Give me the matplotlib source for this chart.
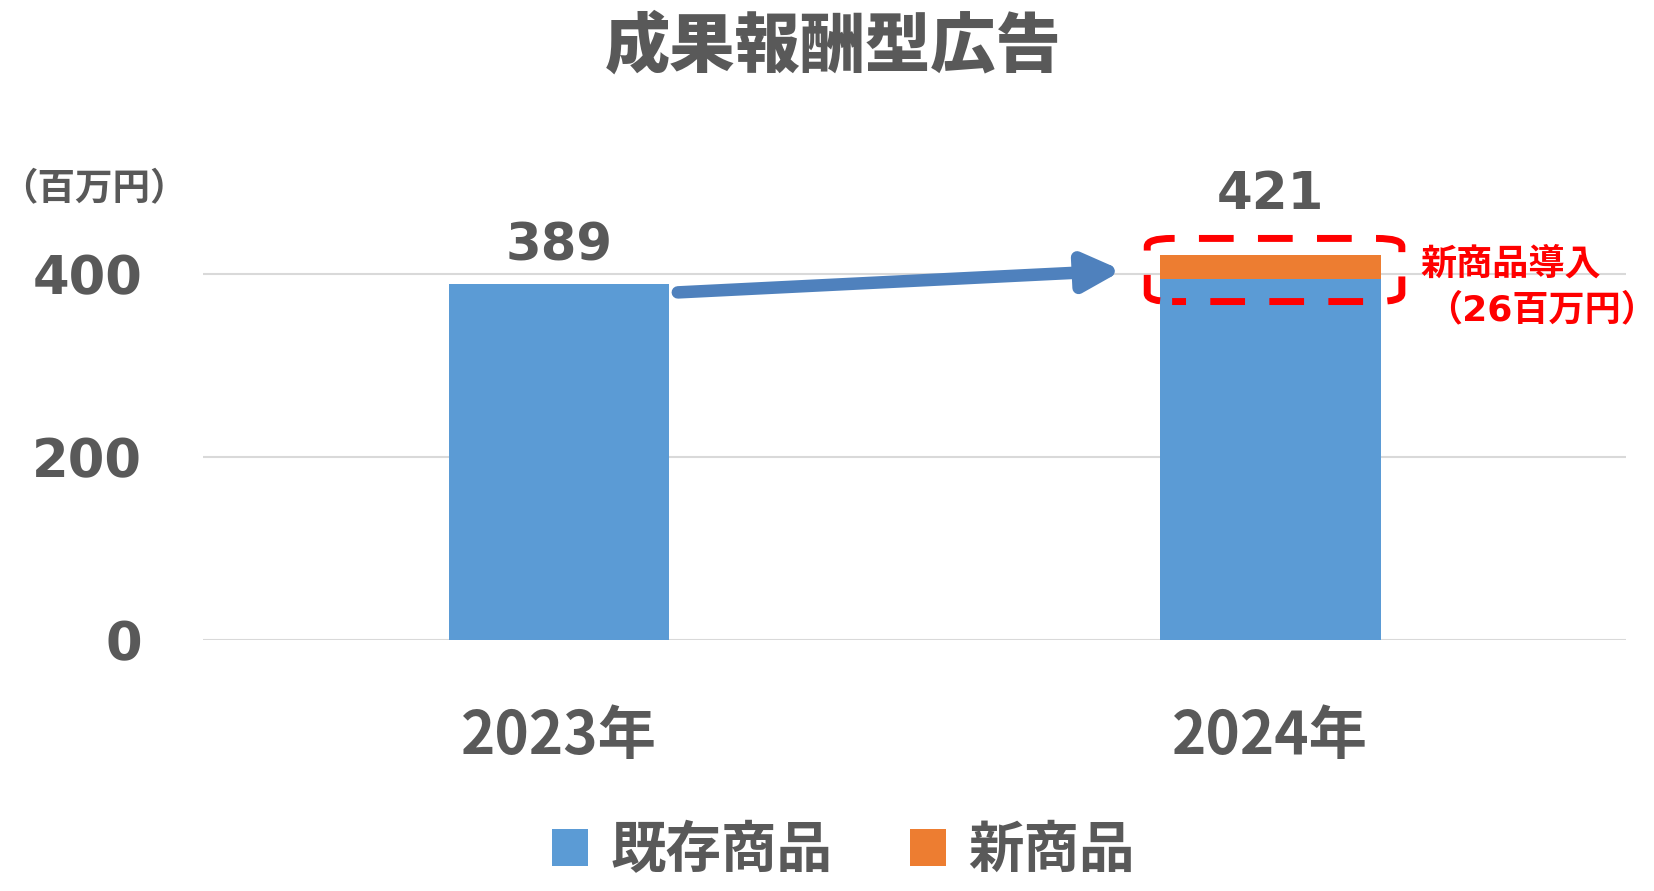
import matplotlib.pyplot as plt
from matplotlib.patches import FancyBboxPatch

plt.rcParams['font.family'] = ['DejaVu Sans', 'Noto Sans CJK JP']
plt.rcParams['font.weight'] = 'bold'

years = ['2023年', '2024年']
existing = [389, 395]
new_items = [0, 26]
totals = [389, 421]
yticks = [0, 200, 400]

blue = '#5B9BD5'
orange = '#ED7D31'
gray = '#595959'
cjk = ['Noto Sans CJK JP', 'DejaVu Sans']

fig = plt.figure(figsize=(16.54, 8.91), dpi=100)
ax = fig.add_axes([0.123, 0.2817, 0.86, 0.462])

x = [0, 1]
b1 = ax.bar(x, existing, width=0.31, color=blue, label='既存商品', zorder=2)
b2 = ax.bar(x[1], new_items[1], bottom=existing[1], width=0.31, color=orange, label='新商品', zorder=2)

ax.set_xlim(-0.5, 1.5)
ax.set_ylim(0, 450)
ax.set_yticks(yticks)
ax.set_yticklabels([str(v) for v in yticks], fontsize=38, color=gray, fontweight='bold')
ax.set_xticks(x)
ax.set_xticklabels(years, fontsize=42, color=gray, fontweight='bold', family=cjk)
ax.tick_params(axis='both', length=0)
ax.tick_params(axis='y', pad=44)
ax.tick_params(axis='x', pad=48)
ax.grid(axis='y', color='#D9D9D9', linewidth=1.5, zorder=0)
for s in ax.spines.values():
    s.set_visible(False)

# value labels (421 sits higher, above the dashed box)
label_y = [430, 486]
for xi, t, ly in zip(x, totals, label_y):
    ax.text(xi, ly, str(t), ha='center', va='center', fontsize=37, color=gray, fontweight='bold')

# arrow from 2023 to the new part of 2024
ax.annotate('', xy=(0.792, 404), xytext=(0.167, 380),
            arrowprops=dict(arrowstyle='-|>,head_length=2.2,head_width=1.1', color='#4F81BD', lw=9,
                            shrinkA=0, shrinkB=0), zorder=3)

box = FancyBboxPatch((0.827, 370), 0.358, 69, boxstyle='round,pad=0,rounding_size=0.035',
                     mutation_aspect=250, fill=False, edgecolor='#FF0000', lw=5,
                     linestyle=(3, (5, 3.5)), zorder=4, clip_on=False)
ax.add_patch(box)

fig.text(0.859, 0.703, '新商品導入', color='#FF0000', fontsize=26, fontweight='bold', ha='left', va='center')
fig.text(0.862, 0.652, '（26百万円）', color='#FF0000', fontsize=26, fontweight='bold', ha='left', va='center')

fig.text(0.504, 0.947, '成果報酬型広告', ha='center', va='center', fontsize=47, color=gray, fontweight='heavy',
         family=cjk)
fig.text(0.0, 0.787, '（百万円）', ha='left', va='center', fontsize=27, color=gray, fontweight='bold')

fig.legend(handles=[b1, b2], loc='center', bbox_to_anchor=(0.51, 0.045), ncol=2, frameon=False,
           prop={'size': 40, 'weight': 'bold', 'family': cjk}, labelcolor=gray, handlelength=0.65,
           handleheight=0.65, columnspacing=1.4, handletextpad=0.4)

fig.savefig('out.png', dpi=100)
